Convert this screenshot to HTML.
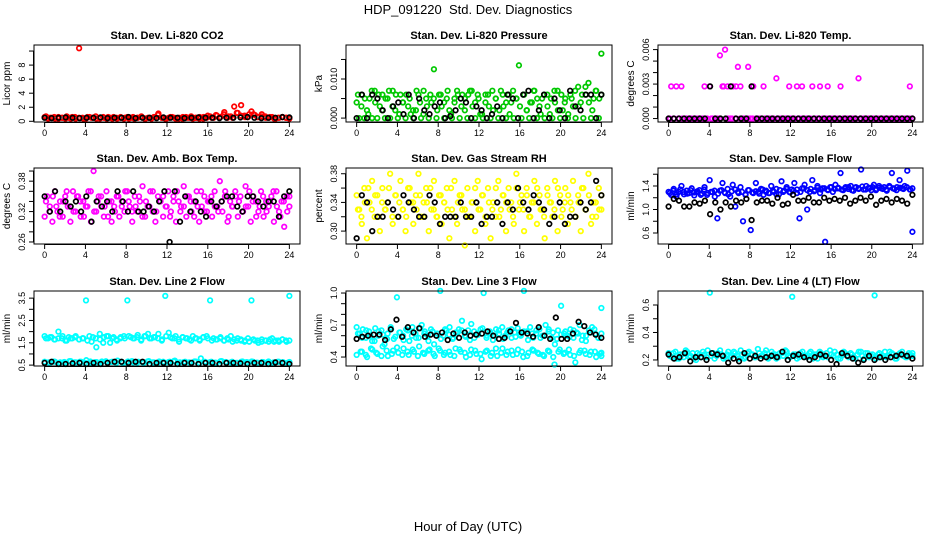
<!DOCTYPE html>
<html><head><meta charset="utf-8">
<style>
html,body{margin:0;padding:0;background:#fff;}
svg{display:block;font-family:"Liberation Sans",Arial,sans-serif;}
</style></head>
<body>
<svg id="chart" width="936" height="540" viewBox="0 0 936 540">
<text x="468" y="14" text-anchor="middle" font-size="13">HDP_091220&#160; Std. Dev. Diagnostics</text>
<text x="468" y="531" text-anchor="middle" font-size="13">Hour of Day (UTC)</text>
</svg>
<script>
// ---- data ----
const hourTicks = [0,4,8,12,16,20,24];

const co2Red = [0.6,0.4,0.5,0.4,0.6,0.5,0.4,0.5,0.6,0.4,10.4,0.5,0.4,0.6,0.5,0.4,0.5,0.6,0.4,0.5,0.6,0.4,0.5,0.4,0.6,0.5,0.4,0.5,0.6,0.4,0.5,0.4,0.6,1.1,0.5,0.4,0.5,0.6,0.4,0.5,0.4,0.6,0.5,0.4,0.5,0.6,0.4,0.5,0.7,0.5,0.8,0.6,1.0,0.5,0.7,2.1,1.2,2.3,0.8,0.6,1.4,0.9,0.6,1.0,0.7,0.5,0.6,0.4,0.5,0.6,0.5,0.4];
const co2Red2 = [0.7,0.5,0.6,0.4,0.5,0.7,0.4,0.6,0.5,0.4,0.6,0.5,0.7,0.4,0.5,0.6,0.4,0.5,0.6,0.5,0.4,0.6,0.5,0.7,0.4,0.5,0.6,0.9,0.5,0.4,0.6,0.5,0.4,0.6,0.5,0.7,0.5,0.4,0.6,0.8,0.5,0.9,0.6,1.3,0.7,0.5,1.2,0.8,0.6,1.0,1.0,0.6,0.7,0.5,0.6,0.4,0.5,0.6,0.5,0.4];
const co2Black = [0.5,0.45,0.5,0.55,0.5,0.45,0.5,0.5,0.55,0.45,0.5,0.5,0.6,0.45,0.5,0.5,0.45,0.55,0.5,0.5,0.45,0.5,0.55,0.5,0.5,0.45,0.5,0.5,0.55,0.6,0.5,0.45,0.5,0.5,0.6,0.55];

const presGreen = [0.004,0,0.006,0,0.002,0.005,0,0.007,0,0.003,0.006,0,0.005,0,0.007,0.002,0,0.006,0.004,0,0.003,0.001,0,0.002,0.006,0,0.007,0.005,0,0.004,0.0125,0,0.006,0.003,0,0.005,0.002,0,0.004,0.007,0,0.006,0.005,0,0.007,0.003,0,0.006,0.001,0,0.004,0.006,0,0.002,0.005,0,0.007,0.003,0,0.006,0.004,0,0.005,0.0135,0,0.006,0.002,0,0.004,0.007,0,0.003,0.005,0,0.006,0.001,0,0.004,0.007,0,0.002,0.005,0,0.006,0.003,0,0.008,0.004,0,0.006,0.009,0,0.005,0.007,0,0.0165];
const presGreen2 = [0.006,0.003,0.005,0.001,0.007,0.004,0.006,0.002,0.005,0.007,0.003,0.006,0.001,0.004,0.006,0.005,0.002,0.007,0.004,0.001,0.003,0.006,0.005,0.002,0.006,0.004,0.007,0.001,0.005,0.006,0.003,0.002,0.006,0.007,0.004,0.005,0.001,0.006,0.003,0.007,0.005,0.002,0.006,0.004,0.001,0.007,0.005,0.003,0.006,0.002,0.004,0.007,0.005,0.001,0.006,0.003,0.005,0.007,0.002,0.006,0.004,0.001,0.005,0.007,0.003,0.006,0.008,0.004,0.002,0.007,0.005,0.006];
const presBlack = [0,0.006,0,0.006,0.005,0.002,0,0.003,0.004,0.001,0.006,0,0.005,0.002,0.001,0.003,0.004,0,0.0005,0.002,0.005,0.004,0,0.003,0.002,0,0.001,0.003,0,0.006,0.005,0,0.006,0.007,0,0.002,0.006,0,0.005,0.002,0,0.007,0.003,0.002,0.006,0.006,0,0.006];

const tempMagenta = [0,0.0028,0,0.0028,0,0.0028,0,0,0,0,0,0,0,0,0.0028,0,0.0028,0,0,0,0.0055,0.0028,0.006,0.0028,0,0.0028,0,0.0045,0.0028,0,0,0.0045,0,0.0028,0,0,0,0.0028,0,0,0,0,0.0035,0,0,0,0,0.0028,0,0,0.0028,0,0.0028,0,0,0,0.0028,0,0,0.0028,0,0,0.0028,0,0,0,0,0.0028,0,0,0,0,0,0,0.0035,0,0,0,0,0,0,0,0,0,0,0,0,0,0,0,0,0,0,0,0.0028,0];
const tempMagenta2 = [0,0,0,0,0,0,0,0,0,0,0,0,0,0.0028,0,0,0.0028,0,0,0,0,0,0,0,0,0,0,0,0,0,0,0,0,0,0,0,0,0,0,0,0,0,0,0,0,0,0,0,0,0,0,0,0,0,0,0,0,0,0,0];
const tempBlack = [0,0,0,0,0,0,0,0,0.0028,0,0,0,0.0028,0,0,0,0.0028,0,0,0,0,0,0,0,0,0,0,0,0,0,0,0,0,0,0,0,0,0,0,0,0,0,0,0,0,0,0,0];

const ambMagenta = [0.31,0.35,0.33,0.30,0.36,0.32,0.34,0.31,0.35,0.33,0.30,0.36,0.32,0.35,0.31,0.34,0.33,0.36,0.30,0.40,0.32,0.35,0.33,0.31,0.36,0.34,0.30,0.33,0.35,0.31,0.34,0.32,0.36,0.33,0.30,0.35,0.32,0.34,0.37,0.31,0.33,0.36,0.32,0.30,0.35,0.34,0.31,0.33,0.36,0.32,0.35,0.30,0.34,0.33,0.37,0.31,0.35,0.32,0.34,0.36,0.30,0.33,0.35,0.32,0.34,0.31,0.36,0.33,0.38,0.32,0.35,0.30,0.34,0.33,0.36,0.31,0.35,0.32,0.37,0.33,0.30,0.35,0.34,0.32,0.36,0.31,0.34,0.33,0.35,0.30,0.36,0.32,0.34,0.29,0.35,0.33];
const ambMagenta2 = [0.34,0.32,0.35,0.33,0.31,0.34,0.36,0.33,0.32,0.35,0.34,0.31,0.33,0.36,0.32,0.34,0.35,0.33,0.31,0.34,0.32,0.35,0.33,0.36,0.34,0.32,0.33,0.35,0.31,0.34,0.33,0.36,0.32,0.34,0.35,0.33,0.31,0.34,0.36,0.32,0.33,0.35,0.34,0.31,0.33,0.36,0.32,0.34,0.35,0.33,0.32,0.34,0.36,0.31,0.33,0.35,0.34,0.32,0.33,0.36,0.34,0.31,0.33,0.35,0.32,0.34,0.36,0.33,0.31,0.34,0.32,0.35];
const ambBlack = [0.35,0.32,0.36,0.32,0.34,0.33,0.34,0.32,0.35,0.30,0.34,0.33,0.34,0.32,0.36,0.34,0.32,0.36,0.32,0.32,0.33,0.32,0.34,0.36,0.26,0.36,0.30,0.35,0.32,0.34,0.32,0.31,0.34,0.33,0.34,0.35,0.35,0.33,0.32,0.35,0.35,0.34,0.33,0.34,0.34,0.31,0.35,0.36];

const rhYellow = [0.35,0.33,0.31,0.36,0.29,0.34,0.37,0.32,0.35,0.30,0.36,0.33,0.34,0.38,0.31,0.35,0.32,0.37,0.33,0.30,0.36,0.34,0.31,0.35,0.38,0.32,0.34,0.36,0.30,0.33,0.37,0.32,0.35,0.31,0.34,0.36,0.29,0.33,0.37,0.31,0.35,0.33,0.28,0.36,0.32,0.34,0.30,0.37,0.33,0.35,0.31,0.36,0.29,0.34,0.32,0.37,0.33,0.35,0.30,0.36,0.34,0.31,0.38,0.33,0.35,0.30,0.36,0.32,0.34,0.37,0.31,0.35,0.33,0.29,0.36,0.34,0.32,0.37,0.30,0.35,0.33,0.36,0.31,0.34,0.37,0.32,0.35,0.30,0.36,0.33,0.38,0.31,0.34,0.32,0.36,0.33];
const rhYellow2 = [0.33,0.32,0.34,0.36,0.33,0.35,0.32,0.34,0.33,0.36,0.32,0.35,0.34,0.33,0.32,0.36,0.34,0.33,0.35,0.32,0.34,0.36,0.33,0.32,0.35,0.34,0.33,0.36,0.32,0.34,0.35,0.33,0.32,0.34,0.36,0.33,0.35,0.32,0.34,0.33,0.36,0.32,0.35,0.34,0.33,0.32,0.36,0.34,0.33,0.35,0.32,0.34,0.36,0.33,0.32,0.35,0.34,0.33,0.36,0.32,0.34,0.35,0.33,0.32,0.34,0.36,0.33,0.35,0.32,0.34,0.33,0.35];
const rhBlack = [0.29,0.35,0.34,0.30,0.32,0.32,0.34,0.33,0.32,0.35,0.34,0.33,0.32,0.32,0.35,0.34,0.31,0.32,0.32,0.32,0.34,0.32,0.32,0.34,0.31,0.32,0.32,0.34,0.31,0.34,0.33,0.36,0.34,0.33,0.35,0.34,0.33,0.31,0.32,0.34,0.31,0.32,0.32,0.34,0.33,0.34,0.37,0.35];

const flowBlue = [1.30,1.25,1.35,1.22,1.30,1.40,1.26,1.32,1.28,1.36,1.24,1.30,1.33,1.27,1.38,1.25,1.50,1.30,1.22,0.85,1.32,1.45,1.28,1.35,1.22,1.42,1.05,1.30,1.38,0.80,1.26,1.33,0.65,1.28,1.45,1.30,1.35,1.25,1.32,1.28,1.40,1.30,1.35,1.26,1.48,1.32,1.38,1.30,1.34,1.45,1.28,0.85,1.36,1.42,1.00,1.30,1.50,1.33,1.40,1.28,1.36,0.45,1.34,1.38,1.30,1.42,1.36,1.62,1.33,1.38,1.35,1.40,1.32,1.38,1.36,1.68,1.34,1.40,1.37,1.33,1.42,1.35,1.40,1.36,1.38,1.32,1.40,1.62,1.35,1.38,1.50,1.36,1.40,1.66,1.34,0.62];
const flowBlue2 = [1.28,1.32,1.26,1.34,1.30,1.27,1.33,1.29,1.31,1.25,1.34,1.28,1.30,1.32,1.27,1.33,1.29,1.26,1.31,1.34,1.28,1.30,1.25,1.33,1.29,1.31,1.27,1.34,1.30,1.28,1.32,1.26,1.33,1.30,1.35,1.29,1.32,1.34,1.30,1.36,1.33,1.35,1.31,1.37,1.34,1.36,1.33,1.38,1.35,1.37,1.34,1.36,1.38,1.33,1.37,1.35,1.39,1.34,1.36,1.38,1.33,1.37,1.35,1.34,1.38,1.36,1.33,1.37,1.35,1.38,1.34,1.36];
const flowBlack = [1.05,1.18,1.15,1.05,1.05,1.12,1.10,1.15,0.92,1.12,1.00,1.12,1.05,1.15,1.12,1.18,0.82,1.12,1.15,1.15,1.10,1.20,1.08,1.10,1.25,1.15,1.15,1.20,1.12,1.12,1.20,1.15,1.18,1.15,1.20,1.10,1.15,1.20,1.15,1.22,1.08,1.15,1.18,1.12,1.18,1.15,1.10,1.25];

const line2Upper = [1.8,1.7,1.75,1.65,2.0,1.7,1.6,1.75,1.7,1.8,1.65,1.7,3.4,1.8,1.75,1.3,1.9,1.5,1.8,1.5,1.75,1.6,1.7,1.8,3.4,1.75,1.7,1.85,1.6,1.8,1.9,1.7,1.75,1.9,1.6,3.6,1.95,1.7,1.8,1.55,1.75,1.7,1.65,1.8,1.7,1.6,1.75,1.8,3.4,1.7,1.65,1.75,1.6,1.7,1.8,1.65,1.7,1.6,1.55,1.7,3.4,1.6,1.5,1.65,1.6,1.55,1.7,1.6,1.55,1.65,1.6,3.6];
const line2Upper2 = [1.7,1.75,1.65,1.7,1.8,1.6,1.7,1.75,1.65,1.7,1.6,1.55,1.7,1.65,1.75,1.8,1.7,1.65,1.75,1.7,1.8,1.7,1.75,1.65,1.8,1.7,1.75,1.7,1.65,1.8,1.75,1.7,1.65,1.75,1.7,1.6,1.7,1.65,1.75,1.7,1.6,1.65,1.7,1.6,1.65,1.55,1.6,1.65,1.6,1.55,1.65,1.6,1.55,1.6,1.65,1.55,1.6,1.65,1.55,1.6];
const line2Lower = [0.65,0.6,0.65,0.62,0.6,0.68,0.62,0.65,0.72,0.6,0.63,0.66,0.62,0.65,0.7,0.6,0.66,0.62,0.65,0.6,0.68,0.62,0.66,0.6,0.65,0.7,0.62,0.65,0.6,0.66,0.8,0.62,0.65,0.6,0.68,0.62,0.65,0.6,0.66,0.62,0.65,0.6,0.63,0.66,0.62,0.65,0.6,0.62];
const line2Lower2 = [0.62,0.66,0.6,0.64,0.68,0.62,0.65,0.6,0.66,0.63,0.61,0.67,0.64,0.6,0.65,0.62,0.68,0.61,0.64,0.66,0.62,0.6,0.65,0.63,0.67,0.61,0.64,0.62,0.66,0.6,0.65,0.63,0.61,0.67,0.64,0.62,0.6,0.65,0.63,0.66,0.61,0.64,0.62,0.6,0.65,0.63,0.61,0.64];
const line2Black = [0.6,0.65,0.55,0.55,0.58,0.6,0.55,0.6,0.55,0.6,0.65,0.65,0.6,0.65,0.65,0.55,0.6,0.6,0.6,0.55,0.6,0.6,0.55,0.6,0.6,0.55,0.6,0.6,0.58,0.55,0.6,0.6,0.55,0.62,0.6,0.55];

const line3Upper = [0.68,0.62,0.66,0.58,0.64,0.55,0.67,0.6,0.65,0.52,0.62,0.68,0.57,0.96,0.63,0.6,0.66,0.55,0.68,0.62,0.58,0.7,0.64,0.6,0.66,0.52,0.62,1.02,0.6,0.65,0.68,0.57,0.63,0.66,0.74,0.6,0.65,0.71,0.58,0.62,0.66,1.0,0.6,0.64,0.56,0.66,0.62,0.68,0.6,0.65,0.58,0.63,0.67,0.6,1.02,0.64,0.68,0.58,0.62,0.66,0.6,0.7,0.64,0.58,0.52,0.65,0.88,0.62,0.6,0.66,0.58,0.63,0.7,0.6,0.55,0.65,0.68,0.62,0.58,0.86];
const line3Upper2 = [0.62,0.58,0.65,0.6,0.55,0.64,0.61,0.57,0.66,0.59,0.63,0.56,0.65,0.6,0.58,0.67,0.62,0.55,0.64,0.6,0.57,0.66,0.61,0.58,0.63,0.65,0.59,0.56,0.64,0.61,0.67,0.58,0.62,0.6,0.65,0.57,0.63,0.66,0.59,0.61,0.64,0.56,0.62,0.65,0.58,0.6,0.66,0.63,0.57,0.61,0.64,0.59,0.65,0.62,0.56,0.6,0.63,0.66,0.58,0.62];
const line3Lower = [0.42,0.45,0.4,0.47,0.43,0.5,0.41,0.46,0.44,0.48,0.42,0.45,0.5,0.43,0.47,0.41,0.46,0.44,0.42,0.48,0.45,0.4,0.47,0.43,0.38,0.46,0.44,0.41,0.48,0.45,0.42,0.47,0.4,0.44,0.46,0.43,0.41,0.45,0.33,0.47,0.44,0.42,0.35,0.46,0.43,0.45,0.4,0.44];
const line3Lower2 = [0.45,0.42,0.48,0.44,0.41,0.46,0.43,0.49,0.42,0.45,0.47,0.41,0.44,0.46,0.43,0.48,0.42,0.45,0.41,0.47,0.44,0.42,0.46,0.43,0.45,0.41,0.48,0.44,0.42,0.46,0.43,0.45,0.41,0.47,0.44,0.42,0.46,0.4,0.45,0.43,0.47,0.41,0.44,0.46,0.42,0.45,0.43,0.41];
const line3Black = [0.57,0.59,0.60,0.61,0.61,0.56,0.66,0.75,0.59,0.68,0.63,0.67,0.59,0.61,0.60,0.63,0.56,0.62,0.58,0.63,0.60,0.61,0.62,0.64,0.60,0.57,0.58,0.64,0.72,0.63,0.62,0.59,0.68,0.60,0.57,0.77,0.57,0.57,0.62,0.73,0.69,0.63,0.61,0.58];

const line4Cyan = [0.25,0.22,0.26,0.21,0.24,0.27,0.22,0.25,0.2,0.24,0.26,0.22,0.69,0.25,0.23,0.27,0.21,0.24,0.22,0.26,0.23,0.27,0.21,0.25,0.24,0.22,0.28,0.23,0.25,0.21,0.26,0.24,0.22,0.25,0.27,0.23,0.66,0.24,0.22,0.26,0.23,0.25,0.21,0.24,0.26,0.22,0.25,0.27,0.23,0.24,0.21,0.26,0.23,0.25,0.22,0.24,0.26,0.21,0.25,0.23,0.67,0.24,0.22,0.26,0.23,0.25,0.21,0.24,0.26,0.22,0.25,0.23];
const line4Cyan2 = [0.23,0.25,0.21,0.24,0.22,0.26,0.23,0.21,0.25,0.22,0.24,0.27,0.23,0.21,0.25,0.24,0.22,0.26,0.23,0.25,0.21,0.24,0.22,0.26,0.24,0.22,0.25,0.23,0.27,0.22,0.24,0.21,0.25,0.23,0.26,0.22,0.24,0.21,0.25,0.23,0.22,0.26,0.24,0.21,0.25,0.23,0.22,0.24,0.26,0.21,0.23,0.25,0.22,0.24,0.21,0.26,0.23,0.25,0.22,0.24,0.21,0.25,0.23,0.22,0.26,0.24,0.21,0.25,0.23,0.22,0.24,0.25];
const line4Black = [0.24,0.21,0.22,0.25,0.19,0.22,0.22,0.20,0.25,0.24,0.23,0.18,0.21,0.19,0.25,0.21,0.23,0.21,0.22,0.23,0.22,0.26,0.20,0.23,0.24,0.22,0.20,0.22,0.24,0.23,0.20,0.17,0.25,0.23,0.21,0.18,0.20,0.23,0.20,0.22,0.20,0.22,0.23,0.24,0.23,0.21];

// ---- layout ----
const cols = [[34,300],[346,612],[658,923]];
const rows = [[45,122],[168,244],[291,366]];
const panels = [
 {name:'co2',title:'Stan. Dev. Li-820 CO2',ylab:'Licor ppm',col:0,row:0,ylim:[-0.1,10.86],ticks:[0,2,4,6,8,10],labels:['0','2','4','6','8',''],series:[[co2Red,'#ff0000'],[co2Red2,'#ff0000'],[co2Black,'#000']]},
 {name:'pressure',title:'Stan. Dev. Li-820 Pressure',ylab:'kPa',col:1,row:0,ylim:[-0.001,0.0187],ticks:[0,0.005,0.010,0.015],labels:['0.000','','0.010',''],series:[[presGreen,'#00c800'],[presGreen2,'#00c800'],[presBlack,'#000']]},
 {name:'licor-temp',title:'Stan. Dev. Li-820 Temp.',ylab:'degrees C',col:2,row:0,ylim:[-0.0003,0.0064],ticks:[0,0.001,0.002,0.003,0.004,0.005,0.006],labels:['0.000','','','0.003','','','0.006'],series:[[tempMagenta,'#ff00ff'],[tempMagenta2,'#ff00ff'],[tempBlack,'#000']]},
 {name:'amb-temp',title:'Stan. Dev. Amb. Box Temp.',ylab:'degrees C',col:0,row:1,ylim:[0.256,0.406],ticks:[0.26,0.28,0.30,0.32,0.34,0.36,0.38,0.40],labels:['0.26','','','0.32','','','0.38',''],series:[[ambMagenta,'#ff00ff'],[ambMagenta2,'#ff00ff'],[ambBlack,'#000']]},
 {name:'gas-rh',title:'Stan. Dev. Gas Stream RH',ylab:'percent',col:1,row:1,ylim:[0.282,0.388],ticks:[0.30,0.32,0.34,0.36,0.38],labels:['0.30','','0.34','','0.38'],series:[[rhYellow,'#ffff00'],[rhYellow2,'#ffff00'],[rhBlack,'#000']]},
 {name:'sample-flow',title:'Stan. Dev. Sample Flow',ylab:'ml/min',col:2,row:1,ylim:[0.413,1.706],ticks:[0.6,0.8,1.0,1.2,1.4,1.6],labels:['0.6','','1.0','','1.4',''],series:[[flowBlue,'#0000ff'],[flowBlue2,'#0000ff'],[flowBlack,'#000']]},
 {name:'line2-flow',title:'Stan. Dev. Line 2 Flow',ylab:'ml/min',col:0,row:2,ylim:[0.46,3.82],ticks:[0.5,1,1.5,2,2.5,3,3.5],labels:['0.5','','1.5','','2.5','','3.5'],series:[[line2Upper,'#00ffff'],[line2Upper2,'#00ffff'],[line2Lower,'#00ffff'],[line2Lower2,'#00ffff'],[line2Black,'#000']]},
 {name:'line3-flow',title:'Stan. Dev. Line 3 Flow',ylab:'ml/min',col:1,row:2,ylim:[0.316,1.019],ticks:[0.4,0.5,0.6,0.7,0.8,0.9,1.0],labels:['0.4','','','0.7','','','1.0'],series:[[line3Upper,'#00ffff'],[line3Upper2,'#00ffff'],[line3Lower,'#00ffff'],[line3Lower2,'#00ffff'],[line3Black,'#000']]},
 {name:'line4-flow',title:'Stan. Dev. Line 4 (LT) Flow',ylab:'ml/min',col:2,row:2,ylim:[0.156,0.702],ticks:[0.2,0.3,0.4,0.5,0.6],labels:['0.2','','0.4','','0.6'],series:[[line4Cyan,'#00ffff'],[line4Cyan2,'#00ffff'],[line4Black,'#000']]}
];

const NS='http://www.w3.org/2000/svg';
const svg=document.getElementById('chart');
function mk(tag,attrs,parent){const e=document.createElementNS(NS,tag);for(const k in attrs)e.setAttribute(k,attrs[k]);parent.appendChild(e);return e;}

panels.forEach(p=>{
  const [x0,x1]=cols[p.col],[y0,y1]=rows[p.row];
  const xs=h=>x0+(x1-x0)*(0.04+0.92*h/24);
  const ys=v=>y1-(v-p.ylim[0])/(p.ylim[1]-p.ylim[0])*(y1-y0);
  const g=mk('g',{},svg);
  
  
  const t=mk('text',{x:(x0+x1)/2,y:y0-6,'text-anchor':'middle','font-size':'11','font-weight':'bold'},g);
  t.textContent=p.title;
  
  
  const yl=mk('text',{x:0,y:0,'text-anchor':'middle','font-size':'10',transform:`translate(${x0-24},${(y0+y1)/2}) rotate(-90)`},g);
  yl.textContent=p.ylab;
  
  
  const xa=mk('g',{stroke:'#000','stroke-width':'1'},g);
  
  
  mk('line',{x1:xs(0),x2:xs(24),y1:y1+0.5,y2:y1+0.5},xa);
  hourTicks.forEach(h=>{
    mk('line',{x1:xs(h),x2:xs(h),y1:y1,y2:y1+5},xa);
    const tl=mk('text',{x:xs(h),y:y1+14,'text-anchor':'middle','font-size':'9',stroke:'none'},g);
    tl.textContent=h;
    
    
  });
  const ya=mk('g',{stroke:'#000','stroke-width':'1'},g);
  
  
  mk('line',{x1:x0-0.5,x2:x0-0.5,y1:ys(p.ticks[0]),y2:ys(p.ticks[p.ticks.length-1])},ya);
  p.ticks.forEach((v,i)=>{
    mk('line',{x1:x0-5,x2:x0,y1:ys(v),y2:ys(v)},ya);
    if(p.labels[i]){
      const tl=mk('text',{x:0,y:0,'text-anchor':'middle','font-size':'9',transform:`translate(${x0-9},${ys(v)}) rotate(-90)`},g);
      tl.textContent=p.labels[i];
      
      
    }
  });
  p.series.forEach(([vals,color],si)=>{
    const sg=mk('g',{fill:'none',stroke:color,'stroke-width':'1.7'},g);
    
    
    const off=si*0.13;
    vals.forEach((v,i)=>{
      const h=Math.min(24,i*24/(vals.length-1)+(si%2?off:0));
      const c=mk('circle',{cx:xs(h),cy:ys(v),r:2.3},sg);
      
      
    });
  });
  const box=mk('rect',{x:x0,y:y0,width:x1-x0,height:y1-y0,fill:'none',stroke:'#000','stroke-width':'1'},g);
  
  
});
</script>
</body></html>
